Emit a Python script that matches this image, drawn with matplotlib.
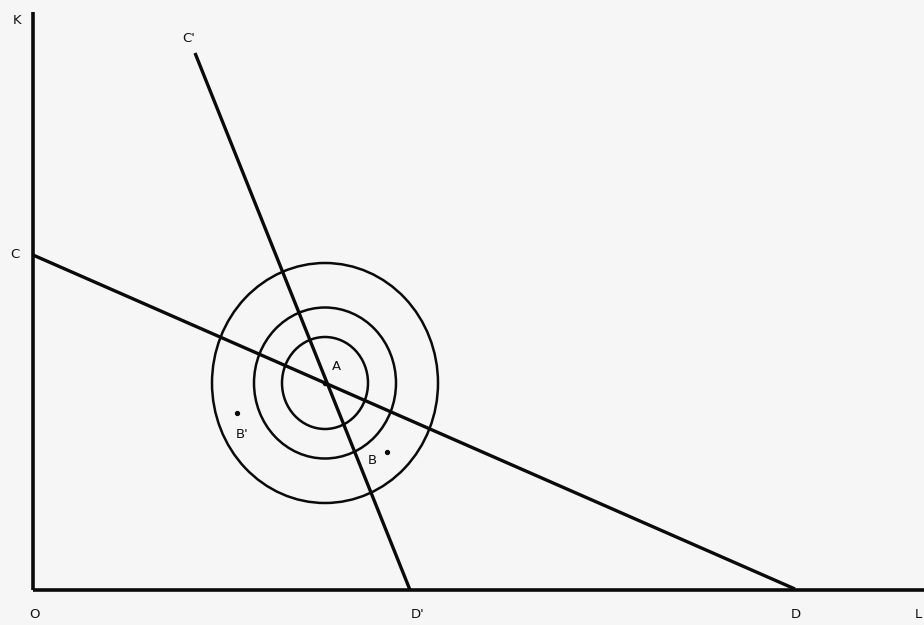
import matplotlib.pyplot as plt
from matplotlib.patches import Ellipse

# Diagram points (image pixel coordinates, y grows downward)
ORIGIN = (33, 590)
K_TOP = (33, 12)
L_END = (924, 590)
POINT_C = (33, 255)
POINT_D = (795, 589)
POINT_C2 = (195, 53)
POINT_D2 = (410, 590)
POINT_A = (325, 383)

# Iso-distance rings around A: (width, height)
RING_SIZES = [(86, 92), (142, 151), (226, 240)]

# Scattered points
DOT_NAMES = ["B'", "B"]
DOT_X = [237, 387]
DOT_Y = [413, 452]

# Text labels
LABELS = ["K", "C'", "C", "A", "B'", "B", "O", "D'", "D", "L"]
LABEL_X = [17, 189, 15, 336, 242, 372, 35, 418, 796, 918]
LABEL_Y = [20, 38, 254, 367, 434, 461, 614, 614, 614, 614]

FIG_W, FIG_H = 924, 625


def draw_segment(ax, p, q, lw=2.4):
    ax.plot([p[0], q[0]], [p[1], q[1]], color='#0a0a0a', lw=lw,
            solid_capstyle='butt')


def main():
    fig = plt.figure(figsize=(FIG_W / 100, FIG_H / 100), dpi=100)
    fig.patch.set_facecolor('#f6f6f6')
    ax = fig.add_axes([0, 0, 1, 1])
    ax.set_facecolor('#f6f6f6')
    ax.set_xlim(0, FIG_W)
    ax.set_ylim(FIG_H, 0)
    ax.axis('off')

    # axes of the diagram
    draw_segment(ax, ORIGIN, K_TOP, lw=2.6)
    draw_segment(ax, ORIGIN, L_END, lw=2.6)

    # the two lines through A
    draw_segment(ax, POINT_C, POINT_D)
    draw_segment(ax, POINT_C2, POINT_D2)

    for w, h in RING_SIZES:
        ax.add_patch(Ellipse(POINT_A, w, h, fill=False, ec='#0a0a0a', lw=1.8))

    ax.plot([POINT_A[0]], [POINT_A[1]], 'o', color='#0a0a0a', ms=3)
    ax.plot(DOT_X, DOT_Y, 'o', color='#0a0a0a', ms=2.8, ls='none')

    for name, x, y in zip(LABELS, LABEL_X, LABEL_Y):
        ax.text(x, y, name, fontsize=9.5, ha='center', va='center',
                family='DejaVu Sans', color='#111111')

    fig.savefig('out.png', dpi=100, facecolor=fig.get_facecolor())


if __name__ == "__main__":
    main()
